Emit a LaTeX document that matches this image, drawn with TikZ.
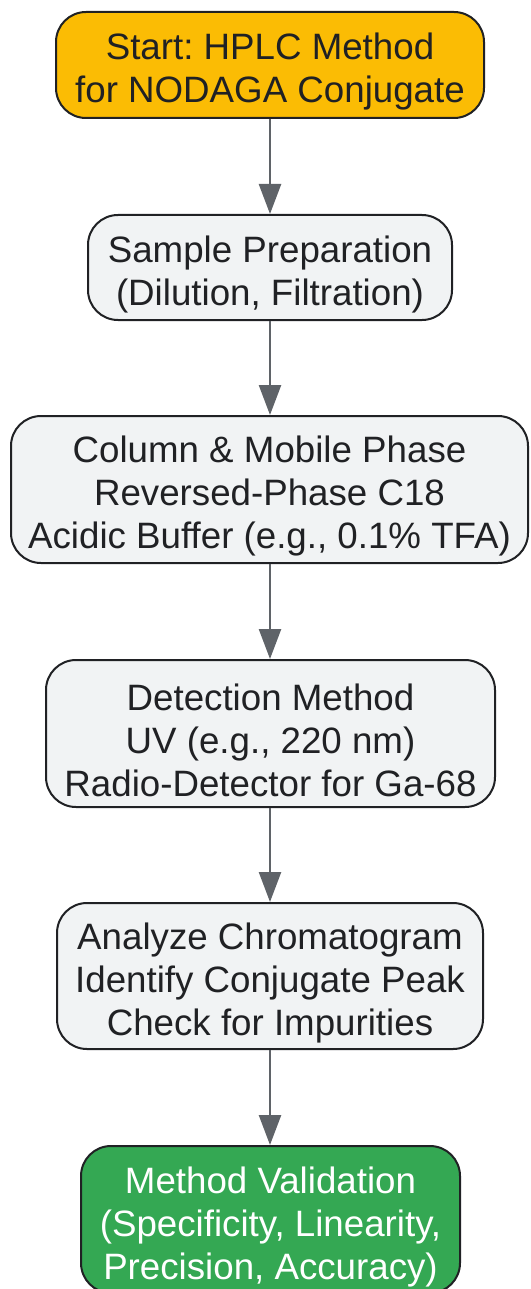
\documentclass[tikz,border=0pt]{standalone}
\usepackage{fontspec}
\setmainfont{Liberation Sans}
\usetikzlibrary{arrows.meta}
\definecolor{boxgray}{HTML}{F1F3F4}
\definecolor{edgedark}{HTML}{202124}
\definecolor{startorange}{HTML}{FBBC04}
\definecolor{endgreen}{HTML}{34A853}
\definecolor{arrowgray}{HTML}{5F6368}
\tikzset{
  flowbox/.style={draw=edgedark, line width=2pt, rounded corners=30pt, fill=boxgray,
    inner sep=0pt},
  boxtext/.style={text=edgedark, align=center, inner sep=0pt, yshift=-7pt,
    font=\fontsize{36.7}{43}\selectfont\frenchspacing},
  whitetext/.style={boxtext, text=white},
  startbox/.style={flowbox, fill=startorange},
  endbox/.style={flowbox, fill=endgreen},
  flowarrow/.style={draw=arrowgray, line width=2.5pt,
    -{Triangle[width=22pt,length=30pt]}}
}
\begin{document}
\begin{tikzpicture}[x=1pt,y=-1pt]
\useasboundingbox (0,0) rectangle (530,1289);
\clip (0,0) rectangle (530,1289);
\node[startbox, minimum width=428pt, minimum height=106pt,
  label={[boxtext]center:{Start: HPLC Method\\for NODAGA Conjugate}}] (n1) at (270,65) {};
\node[flowbox, minimum width=364pt, minimum height=105pt,
  label={[boxtext]center:{Sample Preparation\\(Dilution, Filtration)}}] (n2) at (270,267.5) {};
\node[flowbox, minimum width=517pt, minimum height=147pt,
  label={[boxtext]center:{Column \& Mobile Phase\\Reversed-Phase C18\\Acidic Buffer (e.g., 0.1\% TFA)}}] (n3) at (269.5,489.5) {};
\node[flowbox, minimum width=449pt, minimum height=147pt,
  label={[boxtext]center:{Detection Method\\UV (e.g., 220 nm)\\Radio-Detector for Ga-68}}] (n4) at (270.5,733.5) {};
\node[flowbox, minimum width=426pt, minimum height=146pt,
  label={[boxtext]center:{Analyze Chromatogram\\Identify Conjugate Peak\\Check for Impurities}}] (n5) at (270,976) {};
\node[endbox, minimum width=379pt, minimum height=147pt,
  label={[whitetext]center:{Method Validation\\(Specificity, Linearity,\\Precision, Accuracy)}}] (n6) at (270.5,1219.5) {};
\draw[flowarrow] (n1.south -| 270,0) -- (n2.north -| 270,0);
\draw[flowarrow] (n2.south -| 270,0) -- (n3.north -| 270,0);
\draw[flowarrow] (n3.south -| 270,0) -- (n4.north -| 270,0);
\draw[flowarrow] (n4.south -| 270,0) -- (n5.north -| 270,0);
\draw[flowarrow] (n5.south -| 270,0) -- (n6.north -| 270,0);
\end{tikzpicture}
\end{document}
